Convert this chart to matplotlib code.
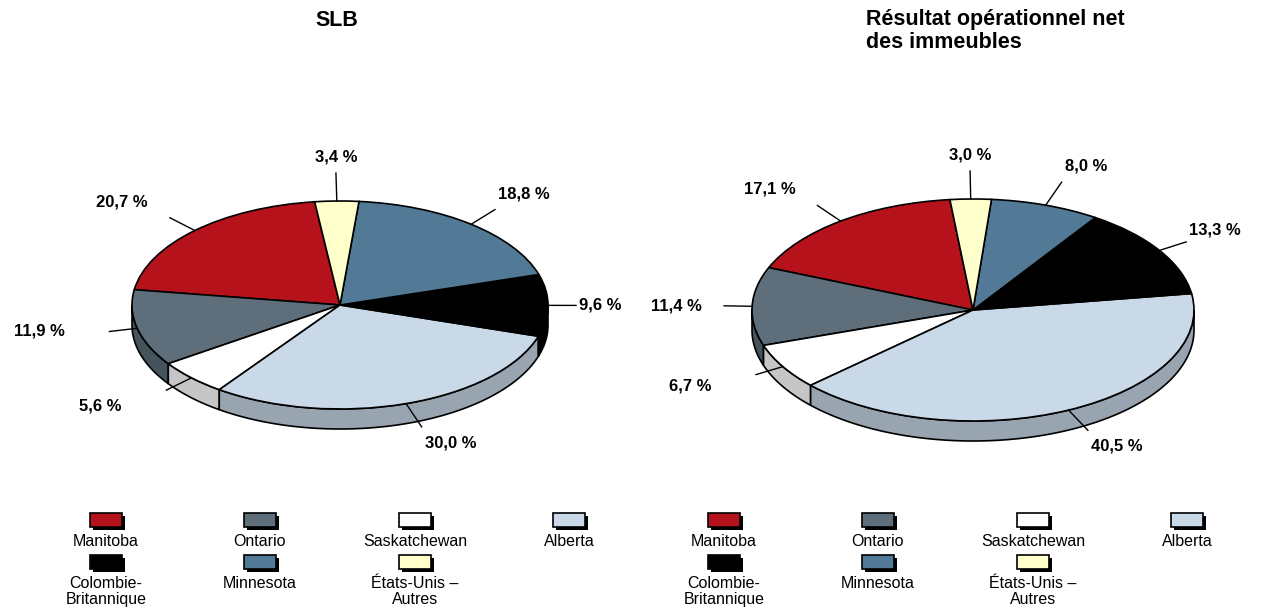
import numpy as np
import matplotlib
matplotlib.use('Agg')
import matplotlib.pyplot as plt
from matplotlib.patches import Rectangle

# données
regions = ['Manitoba', 'Ontario', 'Saskatchewan', 'Alberta',
           'Colombie-\nBritannique', 'Minnesota', 'États-Unis –\nAutres']
slb = [20.7, 11.9, 5.6, 30.0, 9.6, 18.8, 3.4]
ron = [17.1, 11.4, 6.7, 40.5, 13.3, 8.0, 3.0]
titres = ['SLB', 'Résultat opérationnel net\ndes immeubles']

couleurs = ['#b5121b', '#5e6e7a', '#ffffff', '#c9d9e8', '#000000', '#527a96', '#ffffcc']
cotes = ['#7a0c12', '#45535d', '#c6c6c6', '#98a4b0', '#000000', '#3b5a70', '#cccc99']

W, H = 1263, 615
fig = plt.figure(figsize=(W / 100, H / 100), dpi=100)
police = ['Liberation Sans', 'DejaVu Sans']
etroite = ['Liberation Sans Narrow', 'Liberation Sans', 'DejaVu Sans']


def camembert(valeurs, cx, cy, a, b, rect, debut, prof=20):
    x0, y0, w, h = rect
    ax = fig.add_axes([x0 / W, 1 - (y0 + h) / H, w / W, h / H])
    d = prof / b
    # côtés (épaisseur du camembert)
    t = debut
    for v, c in zip(valeurs, cotes):
        t1, t2 = t, t + v * 3.6
        for lo, hi in [(180, 360), (540, 720)]:
            a1, a2 = max(t1, lo), min(t2, hi)
            if a2 > a1:
                ts = np.radians(np.linspace(a1, a2, 80))
                xs = np.concatenate([np.cos(ts), np.cos(ts[::-1])])
                ys = np.concatenate([np.sin(ts), np.sin(ts[::-1]) - d])
                ax.fill(xs, ys, facecolor=c, edgecolor='black', linewidth=1.2, zorder=1)
        t = t2
    ax.pie(valeurs, colors=couleurs, startangle=debut, counterclock=True,
           wedgeprops=dict(edgecolor='black', linewidth=1.2, zorder=2))
    ax.set_aspect('auto')
    ax.set_xlim((x0 - cx) / a, (x0 + w - cx) / a)
    ax.set_ylim((cy - (y0 + h)) / b, (cy - y0) / b)
    ax.axis('off')
    # étiquettes avec traits de rappel (longueur ~28 px)
    t = debut
    for v in valeurs:
        m = np.radians(t + v * 1.8)
        t += v * 3.6
        c, s = np.cos(m), np.sin(m)
        px, py = c * a, s * b
        n = np.hypot(px, py)
        lx, ly = c + 28 * px / n / a, s + 28 * py / n / b
        ax.plot([c, lx], [s, ly], color='black', lw=1, zorder=3, clip_on=False)
        txt = ('%.1f %%' % v).replace('.', ',')
        dy = np.clip(22 * s, -16, 16) if abs(s) > 0.3 else 0
        if c < -0.3:
            ha, dx = 'right', (-45 if s < -0.1 else -22)
        elif c > 0.3:
            ha, dx = 'left', 3
        else:
            ha, dx = 'center', 0
        ax.text(lx + dx / a, ly + dy / b, txt, ha=ha, va='center',
                fontsize=12, fontweight='bold', family=police, clip_on=False)
    return ax


camembert(slb, 340, 305, 208, 104, (0, 100, 640, 390), 97)
camembert(ron, 973, 310, 221, 111, (640, 100, 623, 390), 96)

# axe global en pixels pour titres et légendes
g = fig.add_axes([0, 0, 1, 1])
g.set_xlim(0, W)
g.set_ylim(H, 0)
g.axis('off')

g.text(337, 21, titres[0], ha='center', va='center', fontsize=15.5,
       fontweight='bold', family=police)
g.text(866, 9, titres[1], ha='left', va='top', fontsize=15.5,
       fontweight='bold', family=police, linespacing=1.1)

# légendes
for x_col in ([106, 260, 415, 569], [724, 878, 1033, 1187]):
    for i, (nom, c) in enumerate(zip(regions, couleurs)):
        col, ligne = i % 4, i // 4
        xc = x_col[col]
        yt = 513 + ligne * 42
        g.add_patch(Rectangle((xc - 16 + 2.5, yt + 2.5), 32, 14, facecolor='black', edgecolor='none'))
        g.add_patch(Rectangle((xc - 16, yt), 32, 14, facecolor=c, edgecolor='black', lw=1.2))
        g.text(xc, yt + 21, nom, ha='center', va='top', fontsize=11.5, family=etroite,
               linespacing=1.12)

fig.savefig('out.png', dpi=100)
